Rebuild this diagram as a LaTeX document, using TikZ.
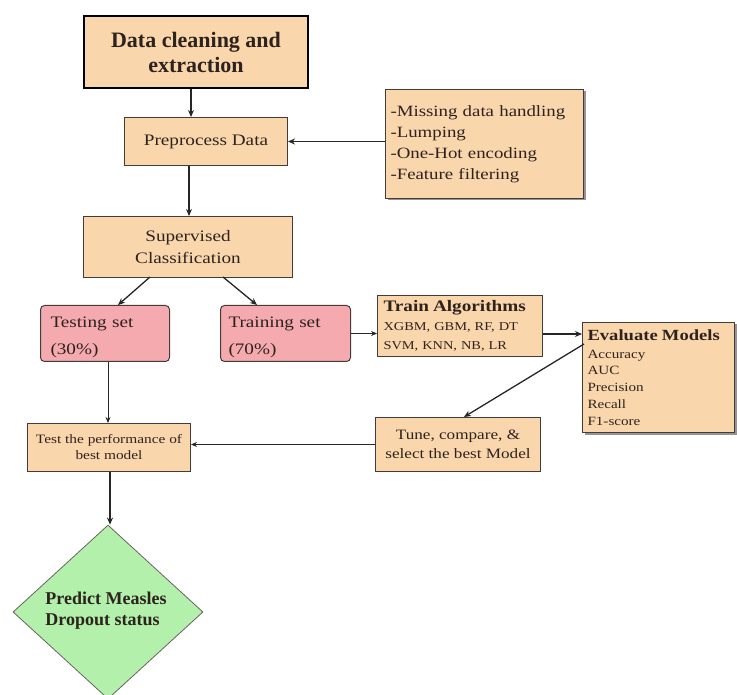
\documentclass[tikz,border=0pt]{standalone}
\usepackage{fontspec}
\setmainfont{Liberation Serif}
\newfontfamily\widefont{Liberation Serif}[FakeStretch=1.2]
\usetikzlibrary{shapes.geometric,arrows.meta,shadows}
\definecolor{peach}{RGB}{250,214,172}
\definecolor{pinkbox}{RGB}{245,170,175}
\definecolor{mint}{RGB}{178,240,172}
\definecolor{edge}{RGB}{70,60,55}
\definecolor{ink}{RGB}{45,35,30}
\newcommand{\fsz}[2]{\fontsize{#1}{#2}\selectfont}
\begin{document}
\begin{tikzpicture}[x=1pt,y=-1pt,
  box/.style={draw=edge,line width=1pt,fill=peach,text=ink,inner sep=0pt,anchor=north west},
  setbox/.style={box,fill=pinkbox,rounded corners=4pt},
  shadowbox/.style={box,drop shadow={shadow xshift=2pt,shadow yshift=-2pt,opacity=0.6,fill=black!70}},
  arr/.style={-{Stealth[length=7pt,width=6pt]},line width=1.3pt,draw=black!85},
  thin/.style={-{Stealth[length=6pt,width=5pt]},line width=0.8pt,draw=black!85}]
\useasboundingbox (0,0) rectangle (737,695);
% process boxes
\node[box,draw=black,line width=2pt,minimum width=224pt,minimum height=72pt,align=center,font=\fsz{22}{25}\bfseries] (clean) at (83,15) {Data cleaning and\\extraction};
\node[box,minimum width=163pt,minimum height=48pt,font=\widefont\fsz{16}{19}] (prep) at (124,117) {Preprocess Data};
\node[shadowbox,minimum width=198pt,minimum height=109pt,align=left,text width=188pt,inner xsep=5pt,font=\widefont\fsz{15.7}{21}] (steps) at (385,89) {-Missing data handling\\-Lumping\\-One-Hot encoding\\-Feature filtering};
\node[box,minimum width=209pt,minimum height=61pt,align=center,font=\widefont\fsz{16}{22}] (sup) at (83,216) {Supervised\\Classification};
\node[setbox,minimum width=129pt,minimum height=56pt,align=left,text width=109pt,inner xsep=10pt,font=\widefont\fsz{16}{27}] (test) at (40,305) {\strut Testing set\\(30\%)\\[-4pt]};
\node[setbox,minimum width=130pt,minimum height=56pt,align=left,text width=114pt,inner xsep=8pt,font=\widefont\fsz{16}{27}] (train) at (220,305) {\strut Training set\\(70\%)\\[-4pt]};
\node[box,minimum width=165pt,minimum height=61pt,align=left,text width=153pt,inner xsep=6pt,font=\widefont\fsz{12}{19}] (algo) at (377,295) {{\fsz{16}{19}\bfseries Train Algorithms}\\XGBM, GBM, RF, DT\\SVM, KNN, NB, LR};
\node[shadowbox,minimum width=152pt,minimum height=110pt,align=left,text width=142pt,inner xsep=5pt,font=\widefont\fsz{12.6}{16.7}] (eval) at (582,322) {{\fsz{15.5}{18}\bfseries Evaluate Models}\\[1pt]Accuracy\\AUC\\Precision\\Recall\\F1-score\\[-9pt]};
\node[box,minimum width=163pt,minimum height=48pt,align=center,font=\widefont\fsz{12.8}{16}] (perf) at (27,423) {Test the performance of\\best model};
\node[box,minimum width=165pt,minimum height=54pt,align=center,font=\widefont\fsz{14.3}{19}] (tune) at (375,417) {Tune, compare, \&\\select the best Model};
% decision shape and its caption
\node[draw=edge!80,line width=0.8pt,fill=mint,shape=diamond,minimum width=190pt,minimum height=174pt,inner sep=0pt] (pred) at (108,612) {};
\node[align=left,text=ink,inner sep=0pt,font=\fsz{18}{21}\bfseries] (predtext) at (106,611) {Predict Measles\\Dropout status};
% connectors
\coordinate (sA) at (150,277);
\coordinate (sB) at (223,277);
\coordinate (tA) at (118,305);
\coordinate (tB) at (257,305);
\coordinate (evIn) at (582,334);
\coordinate (evOut) at (584,344);
\coordinate (tuneIn) at (464,417);
\draw[arr] (clean.south -| prep.north) ++(-15,0) coordinate (c1) -- (c1 |- prep.north);
\draw[arr] (steps.west |- prep.east) -- (prep.east);
\draw[arr] (prep.south) ++(-17,0) coordinate (c2) -- (c2 |- sup.north);
\draw[arr] (sA) -- (tA);
\draw[arr] (sB) -- (tB);
\draw[thin] (test.south) ++(3,0) coordinate (c3) -- (c3 |- perf.north);
\draw[thin] (train.east) -- (train.east -| algo.west);
\draw[arr] (algo.east |- evIn) -- (evIn);
\draw[arr] (evOut) -- (tuneIn);
\draw[thin] (tune.west) -- (tune.west -| perf.east);
\draw[arr] (perf.south) ++(1,0) coordinate (c4) -- (c4 |- pred.north);
\end{tikzpicture}
\end{document}
